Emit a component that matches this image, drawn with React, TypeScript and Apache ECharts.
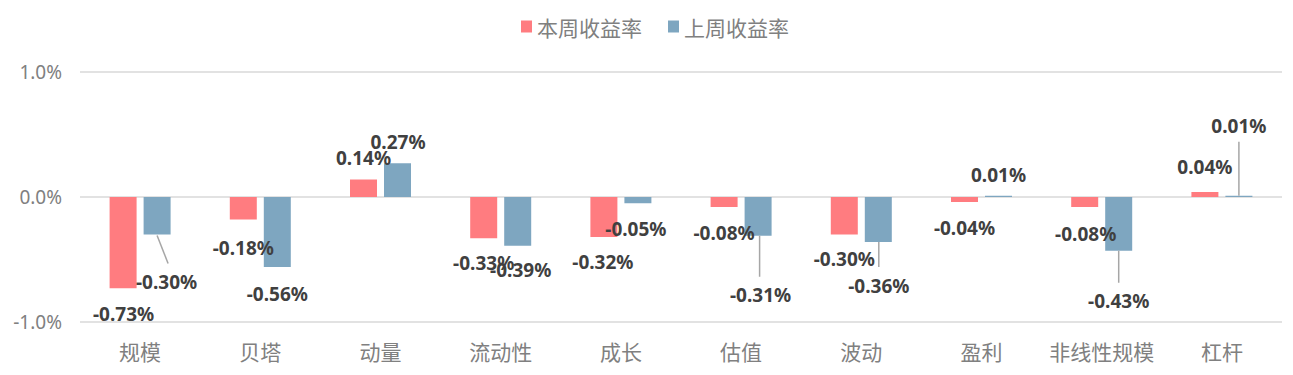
import React, { useEffect, useRef } from "react";
import * as echarts from "echarts";

const categories = ["规模", "贝塔", "动量", "流动性", "成长", "估值", "波动", "盈利", "非线性规模", "杠杆"];
const seriesNames = ["本周收益率", "上周收益率"];
const thisWeek = [-0.73, -0.18, 0.14, -0.33, -0.32, -0.08, -0.3, -0.04, -0.08, 0.04];
const lastWeek = [-0.3, -0.56, 0.27, -0.39, -0.05, -0.31, -0.36, 0.01, -0.43, 0.01];
const yTicks = [-1, 0, 1];

// label nudges (dx, dy in px) relative to the bar end
const thisWeekLabelShift = [
  [0.5, 16], [0, 18.5], [0, -12.5], [0, 15.5], [-1, 15.5],
  [0, 16.5], [0, 14.5], [0, 16.5], [1, 17.5], [0, -15.5],
];
const lastWeekLabelShift = [
  [9.5, 38], [0, 17.5], [0.5, -11.5], [3, 14.5], [-2, 16.5],
  [2.5, 49.5], [0.5, 34.5], [0, -11.5], [0, 40.5], [0, -60.5],
];
// leader line segments for last-week labels: [x0, y0, x1, y1] in px relative to the bar end
const lastWeekLeaderSeg: (number[] | null)[] = [
  [0, 1, 11, 29], null, null, null, null,
  [1.5, 0, 1.5, 41], [0.5, 0, 0.5, 25], null, [0, 0, 0, 32], [0, 0, 0, -54],
];

const RED = "#FF7C80";
const BLUE = "#7EA6C0";
const LABEL_COLOR = "#404040";
const AXIS_COLOR = "#808080";
const GRID_COLOR = "#d9d9d9";
const LEADER_COLOR = "#a6a6a6";
const BAR_WIDTH = 27;
const BAR_GAP_PX = 7;

function buildData(values: number[]) {
  return values.map((v) => ({
    value: v,
    label: { position: v < 0 ? "bottom" : "top" },
  }));
}

export default function App() {
  const ref = useRef<HTMLDivElement>(null);

  useEffect(() => {
    if (!ref.current) return;
    const chart = echarts.init(ref.current, null, { renderer: "svg" });
    const labelCommon = {
      show: true,
      distance: 0,
      color: LABEL_COLOR,
      fontFamily: "Noto Sans",
      fontWeight: "bold" as const,
      fontSize: 19,
      formatter: (p: any) => `${Number(p.value).toFixed(2)}%`,
    };
    const blueOffset = (BAR_WIDTH + BAR_GAP_PX) / 2;
    chart.setOption({
      animation: false,
      backgroundColor: "#ffffff",
      legend: {
        data: seriesNames,
        left: 521,
        top: 16,
        padding: 0,
        itemWidth: 11,
        itemHeight: 12,
        itemGap: 26,
        icon: "rect",
        textStyle: { color: AXIS_COLOR, fontSize: 21, fontFamily: "Noto Sans CJK SC" },
      },
      grid: { left: 80, right: 11, top: 72, bottom: 53, containLabel: false },
      xAxis: {
        type: "category",
        data: categories,
        axisLine: { show: false, onZero: false },
        axisTick: { show: false },
        axisLabel: {
          interval: 0,
          color: AXIS_COLOR,
          fontSize: 21,
          fontFamily: "Noto Sans CJK SC",
          margin: 18,
        },
      },
      yAxis: {
        type: "value",
        min: yTicks[0],
        max: yTicks[yTicks.length - 1],
        interval: 1,
        axisLine: { show: false },
        axisTick: { show: false },
        splitLine: { lineStyle: { color: GRID_COLOR, width: 1.5 } },
        axisLabel: {
          color: AXIS_COLOR,
          fontSize: 19,
          fontFamily: "Noto Sans",
          margin: 18,
          formatter: (v: number) => `${v.toFixed(1)}%`,
        },
      },
      series: [
        {
          name: seriesNames[0],
          type: "bar",
          barWidth: BAR_WIDTH,
          barGap: `${(BAR_GAP_PX / BAR_WIDTH) * 100}%`,
          itemStyle: { color: RED },
          data: buildData(thisWeek),
          label: labelCommon,
          labelLayout: (p: any) => ({
            dx: thisWeekLabelShift[p.dataIndex][0],
            dy: thisWeekLabelShift[p.dataIndex][1],
          }),
        },
        {
          name: seriesNames[1],
          type: "bar",
          barWidth: BAR_WIDTH,
          barGap: `${(BAR_GAP_PX / BAR_WIDTH) * 100}%`,
          itemStyle: { color: BLUE },
          data: buildData(lastWeek),
          label: labelCommon,
          labelLayout: (p: any) => ({
            dx: lastWeekLabelShift[p.dataIndex][0],
            dy: lastWeekLabelShift[p.dataIndex][1],
          }),
        },
        {
          type: "custom",
          silent: true,
          z: 3,
          data: lastWeek.map((v, i) => [i, v]),
          renderItem: (params: any, api: any) => {
            const seg = lastWeekLeaderSeg[params.dataIndex];
            if (!seg) return { type: "group", children: [] };
            const p = api.coord([api.value(0), api.value(1)]);
            const x = p[0] + blueOffset;
            return {
              type: "line",
              shape: { x1: x + seg[0], y1: p[1] + seg[1], x2: x + seg[2], y2: p[1] + seg[3] },
              style: { stroke: LEADER_COLOR, lineWidth: 1.5 },
            };
          },
        },
      ],
    });
    return () => chart.dispose();
  }, []);

  return (
    <div
      ref={ref}
      style={{ position: "absolute", left: 0, top: 0, width: 1293, height: 375, background: "#fff" }}
    />
  );
}
